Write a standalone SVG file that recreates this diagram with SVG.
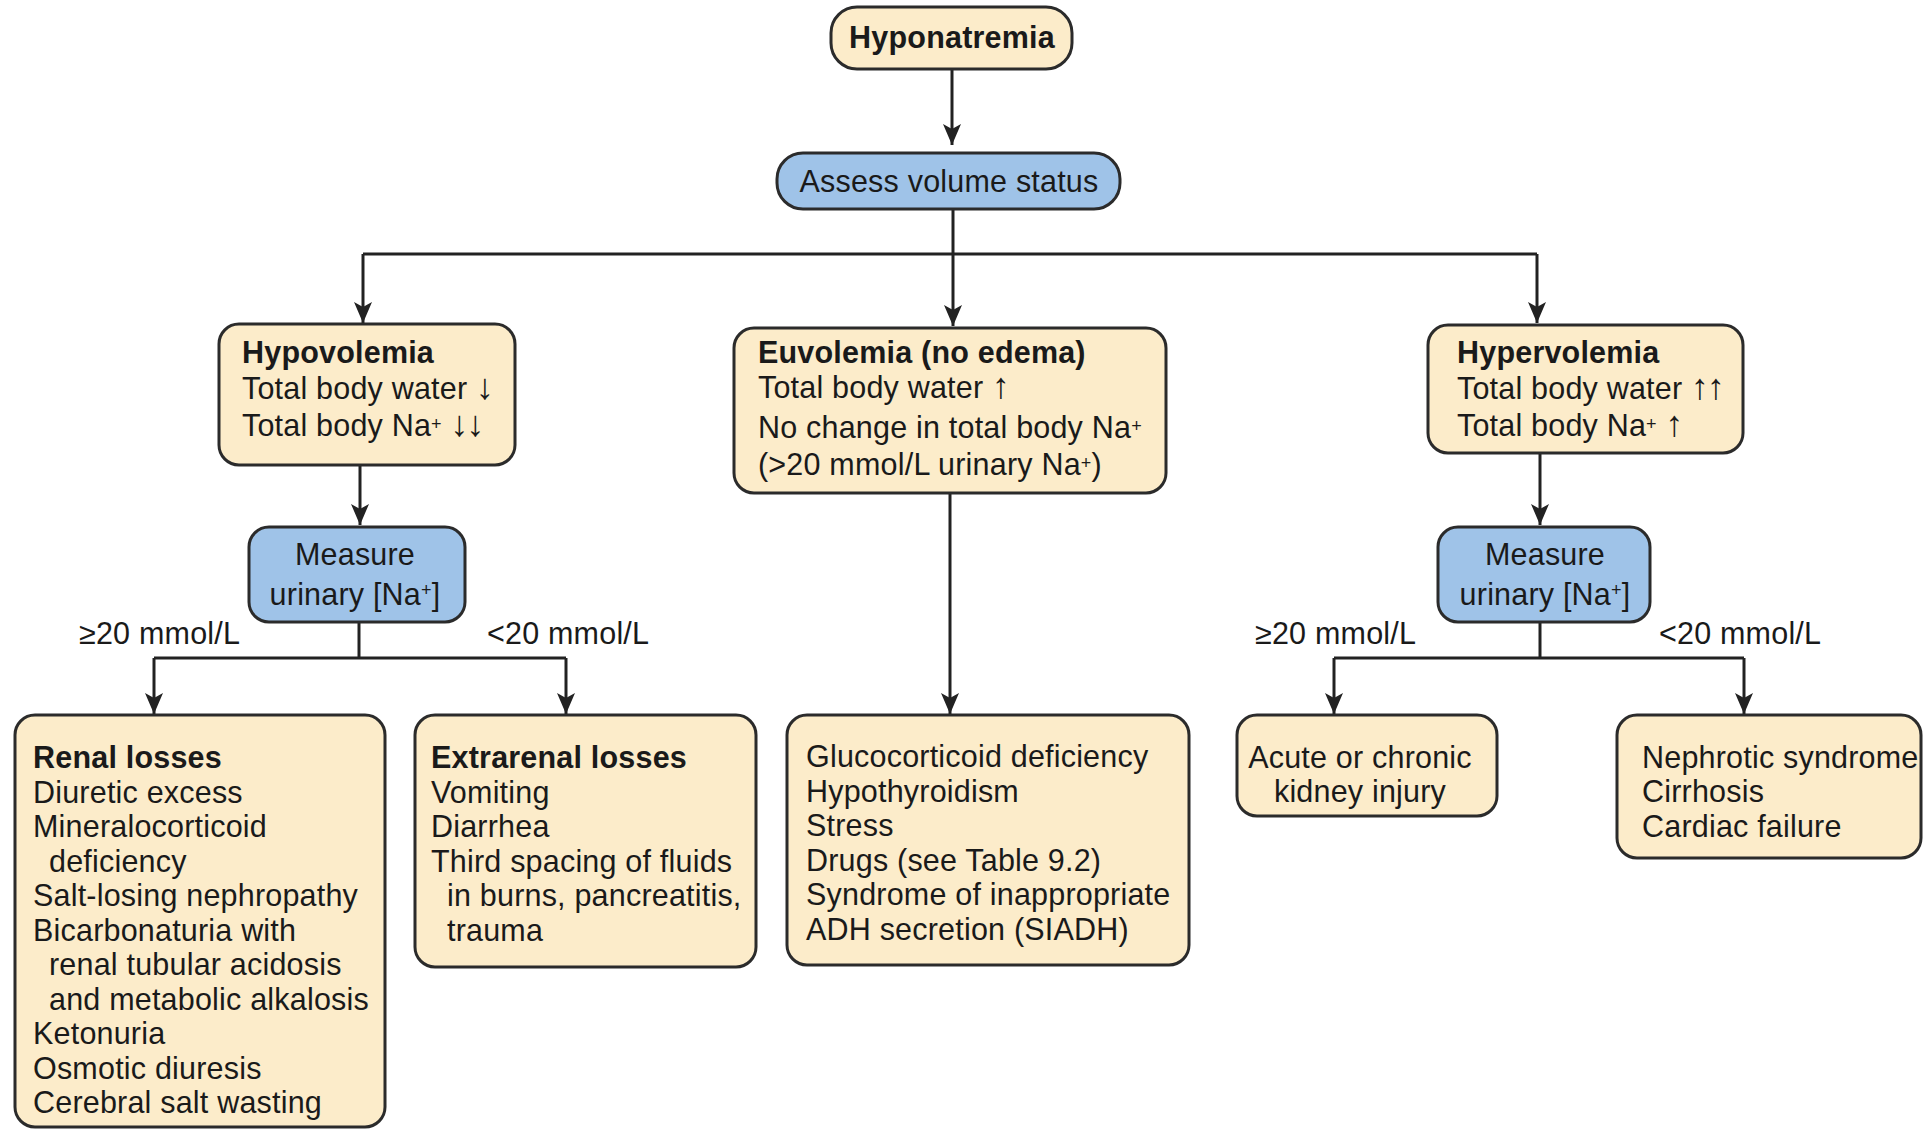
<svg xmlns="http://www.w3.org/2000/svg" width="1924" height="1130" viewBox="0 0 1924 1130">
<style>
  text { font-family: "Liberation Sans", Arial, Helvetica, sans-serif; font-size: 30.5px; letter-spacing: 0.2px; fill: #1a1a1a; }
  .b { font-weight: bold; }
  .c { text-anchor: middle; }
  .cream { fill: #fcecca; stroke: #2b2b2b; stroke-width: 3; }
  .blue { fill: #9fc3e8; stroke: #2b2b2b; stroke-width: 3; }
  .conn { fill: none; stroke: #222; stroke-width: 3; }
  .arr { marker-end: url(#ah); }
  .sup { font-size: 18px; }
  .ar { font-size: 36px; letter-spacing: -2px; }
</style>
<defs>
  <marker id="ah" viewBox="-22 -12 24 24" refX="0" refY="0" markerWidth="24" markerHeight="24" orient="auto" markerUnits="userSpaceOnUse">
    <path d="M0,0 L-21,-9 L-16,0 L-21,9 Z" fill="#222"/>
  </marker>
</defs>
<rect width="1924" height="1130" fill="#ffffff"/>

<g id="connectors">
  <path class="conn arr" d="M952,69 V145"/>
  <path class="conn" d="M953,209 V254"/>
  <path class="conn" d="M363,254 H1537"/>
  <path class="conn arr" d="M363,254 V323"/>
  <path class="conn arr" d="M953,254 V326"/>
  <path class="conn arr" d="M1537,254 V323"/>
  <path class="conn arr" d="M360,465 V525"/>
  <path class="conn" d="M359,622 V658"/>
  <path class="conn" d="M154,658 H566"/>
  <path class="conn arr" d="M154,658 V714"/>
  <path class="conn arr" d="M566,658 V714"/>
  <path class="conn arr" d="M950,493 V714"/>
  <path class="conn arr" d="M1540,453 V525"/>
  <path class="conn" d="M1540,622 V658"/>
  <path class="conn" d="M1334,658 H1744"/>
  <path class="conn arr" d="M1334,658 V714"/>
  <path class="conn arr" d="M1744,658 V714"/>
</g>

<g id="hyponatremia">
  <rect class="cream" x="831" y="7" width="241" height="62" rx="26"/>
  <text class="b c" x="952" y="48">Hyponatremia</text>
</g>

<g id="assess">
  <rect class="blue" x="777" y="153" width="343" height="56" rx="26"/>
  <text class="c" x="949" y="192">Assess volume status</text>
</g>

<g id="hypovolemia">
  <rect class="cream" x="219" y="324" width="296" height="141" rx="20"/>
  <text class="b" x="242" y="363">Hypovolemia</text>
  <text x="242" y="399">Total body water <tspan class="ar">↓</tspan></text>
  <text x="242" y="436">Total body Na<tspan class="sup" dy="-6">+</tspan><tspan dy="6"> </tspan><tspan class="ar">↓↓</tspan></text>
</g>

<g id="euvolemia">
  <rect class="cream" x="734" y="328" width="432" height="165" rx="20"/>
  <text class="b" x="758" y="363">Euvolemia (no edema)</text>
  <text x="758" y="398">Total body water <tspan class="ar">↑</tspan></text>
  <text x="758" y="438">No change in total body Na<tspan class="sup" dy="-6">+</tspan></text>
  <text x="758" y="475">(&gt;20 mmol/L urinary Na<tspan class="sup" dy="-6">+</tspan><tspan dy="6">)</tspan></text>
</g>

<g id="hypervolemia">
  <rect class="cream" x="1428" y="325" width="315" height="128" rx="20"/>
  <text class="b" x="1457" y="363">Hypervolemia</text>
  <text x="1457" y="399">Total body water <tspan class="ar">↑↑</tspan></text>
  <text x="1457" y="436">Total body Na<tspan class="sup" dy="-6">+</tspan><tspan dy="6"> </tspan><tspan class="ar">↑</tspan></text>
</g>

<g id="measure-left">
  <rect class="blue" x="249" y="527" width="216" height="95" rx="20"/>
  <text class="c" x="355" y="565">Measure</text>
  <text class="c" x="355" y="605">urinary [Na<tspan class="sup" dy="-9">+</tspan><tspan dy="9">]</tspan></text>
</g>

<g id="measure-right">
  <rect class="blue" x="1438" y="527" width="212" height="95" rx="20"/>
  <text class="c" x="1545" y="565">Measure</text>
  <text class="c" x="1545" y="605">urinary [Na<tspan class="sup" dy="-9">+</tspan><tspan dy="9">]</tspan></text>
</g>

<g id="labels">
  <text x="79" y="644">≥20 mmol/L</text>
  <text x="487" y="644">&lt;20 mmol/L</text>
  <text x="1255" y="644">≥20 mmol/L</text>
  <text x="1659" y="644">&lt;20 mmol/L</text>
</g>

<g id="renal-losses">
  <rect class="cream" x="15" y="715" width="370" height="412" rx="20"/>
  <text class="b" x="33" y="768">Renal losses</text>
  <text x="33" y="802.5">Diuretic excess</text>
  <text x="33" y="837">Mineralocorticoid</text>
  <text x="49" y="871.5">deficiency</text>
  <text x="33" y="906">Salt-losing nephropathy</text>
  <text x="33" y="940.5">Bicarbonaturia with</text>
  <text x="49" y="975">renal tubular acidosis</text>
  <text x="49" y="1009.5">and metabolic alkalosis</text>
  <text x="33" y="1044">Ketonuria</text>
  <text x="33" y="1078.5">Osmotic diuresis</text>
  <text x="33" y="1113">Cerebral salt wasting</text>
</g>

<g id="extrarenal-losses">
  <rect class="cream" x="415" y="715" width="341" height="252" rx="20"/>
  <text class="b" x="431" y="768">Extrarenal losses</text>
  <text x="431" y="802.5">Vomiting</text>
  <text x="431" y="837">Diarrhea</text>
  <text x="431" y="871.5">Third spacing of fluids</text>
  <text x="447" y="906">in burns, pancreatitis,</text>
  <text x="447" y="940.5">trauma</text>
</g>

<g id="euvolemia-causes">
  <rect class="cream" x="787" y="715" width="402" height="250" rx="20"/>
  <text x="806" y="767">Glucocorticoid deficiency</text>
  <text x="806" y="801.5">Hypothyroidism</text>
  <text x="806" y="836">Stress</text>
  <text x="806" y="870.5">Drugs (see Table 9.2)</text>
  <text x="806" y="905">Syndrome of inappropriate</text>
  <text x="806" y="939.5">ADH secretion (SIADH)</text>
</g>

<g id="kidney-injury">
  <rect class="cream" x="1237" y="715" width="260" height="101" rx="20"/>
  <text class="c" x="1360" y="768">Acute or chronic</text>
  <text class="c" x="1360" y="802">kidney injury</text>
</g>

<g id="nephrotic">
  <rect class="cream" x="1617" y="715" width="304" height="143" rx="20"/>
  <text x="1642" y="768">Nephrotic syndrome</text>
  <text x="1642" y="802">Cirrhosis</text>
  <text x="1642" y="837">Cardiac failure</text>
</g>
</svg>
